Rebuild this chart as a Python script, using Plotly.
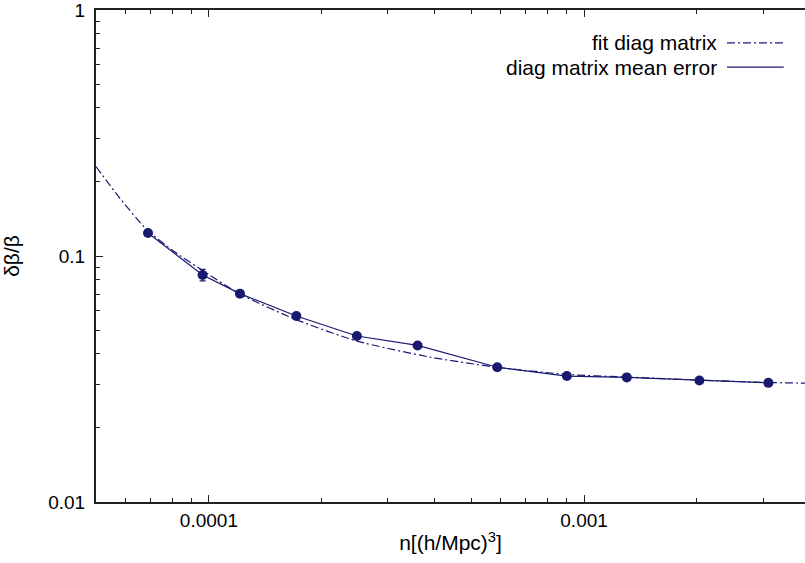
import plotly.graph_objects as go

# measured data (diag matrix mean error)
n_data = [6.88e-5, 9.62e-5, 1.21e-4, 1.71e-4, 2.48e-4, 3.60e-4, 5.87e-4, 9.0e-4, 1.30e-3, 2.03e-3, 3.10e-3]
err_data = [0.124, 0.0837, 0.0703, 0.0570, 0.0473, 0.0433, 0.0353, 0.0325, 0.0321, 0.0312, 0.0305]
err_bars = [0.003, 0.0045, 0.002, 0.0012, 0.0009, 0.0008, 0.0006, 0.0005, 0.0005, 0.0005, 0.0005]

# fit diag matrix curve
n_fit = [5.0e-5, 5.8e-5, 6.83e-5, 8.1e-5, 9.58e-5, 1.21e-4, 1.72e-4, 2.48e-4, 3.89e-4, 5.86e-4, 9.0e-4, 1.30e-3, 2.02e-3, 3.10e-3, 4.0e-3]
y_fit = [0.231, 0.171, 0.128, 0.104, 0.0877, 0.0700, 0.0549, 0.0451, 0.0388, 0.0353, 0.0330, 0.0322, 0.0313, 0.0306, 0.0304]

x_tickvals = [1e-4, 1e-3]
x_ticktext = ["0.0001", "0.001"]
y_tickvals = [0.01, 0.1, 1]
y_ticktext = ["0.01", "0.1", "1"]
x_minor = [5e-5, 6e-5, 7e-5, 8e-5, 9e-5, 2e-4, 3e-4, 4e-4, 5e-4, 6e-4, 7e-4, 8e-4, 9e-4, 2e-3, 3e-3]
y_minor = [0.02, 0.03, 0.04, 0.05, 0.06, 0.07, 0.08, 0.09, 0.2, 0.3, 0.4, 0.5, 0.6, 0.7, 0.8, 0.9]

legend_labels = ["fit diag matrix", "diag matrix mean error"]

color = "#191970"
font = "Liberation Sans, Arial, sans-serif"
tick_size = 19
text_size = 21

fig = go.Figure()
fig.add_trace(go.Scatter(
    x=n_fit, y=y_fit, mode="lines", name=legend_labels[0],
    line=dict(color=color, width=1.2, dash="8px,3px,2px,3px", shape="spline", smoothing=0.6),
))
fig.add_trace(go.Scatter(
    x=n_data, y=err_data, mode="lines+markers", name=legend_labels[1],
    line=dict(color=color, width=1.2),
    marker=dict(color=color, size=10, symbol="circle"),
    error_y=dict(type="data", array=err_bars, color=color, thickness=1.2, width=3),
))

axis_common = dict(
    type="log", showgrid=False, zeroline=False,
    showline=True, linecolor="#222", linewidth=2,
    ticks="inside", ticklen=7, tickwidth=1, tickcolor="#222",
    tickfont=dict(family=font, size=tick_size, color="black"),
    ticklabeloverflow="allow", automargin=False,
)

fig.update_xaxes(
    **axis_common,
    range=[-4.301, -2.411],
    tickmode="array", tickvals=x_tickvals, ticktext=x_ticktext,
    minor=dict(ticks="inside", ticklen=4, tickcolor="#222", tickmode="array", tickvals=x_minor, showgrid=False),
    mirror="ticks",
    title=dict(text="n[(h/Mpc)<sup>3</sup>]", font=dict(family=font, size=text_size, color="black"), standoff=6),
)
fig.update_yaxes(
    **axis_common,
    range=[-2, 0],
    tickmode="array", tickvals=y_tickvals, ticktext=y_ticktext,
    ticklabelstandoff=5,
    minor=dict(ticks="inside", ticklen=4, tickcolor="#222", tickmode="array", tickvals=y_minor, showgrid=False),
    title=dict(text="δβ/β", font=dict(family=font, size=text_size, color="black"), standoff=30),
)

# gnuplot-style key: text right-aligned, sample line on the right
rows_y = [0.933, 0.884]
dashes = ["8px,3px,2px,3px", "solid"]
for lbl, yy, dsh in zip(legend_labels, rows_y, dashes):
    fig.add_annotation(xref="paper", yref="paper", x=0.878, y=yy, text=lbl,
                       showarrow=False, xanchor="right", yanchor="middle",
                       font=dict(family=font, size=text_size, color="black"))
    fig.add_shape(type="line", xref="paper", yref="paper", x0=0.890, x1=0.970, y0=yy, y1=yy,
                  line=dict(color=color, width=1.2, dash=dsh))

fig.update_layout(
    width=805, height=563,
    margin=dict(l=96, r=0, t=10, b=61),
    paper_bgcolor="white", plot_bgcolor="white",
    showlegend=False,
    font=dict(family=font, size=tick_size, color="black"),
)

# remove the default page margin so the 805x563 figure fills the window exactly
fig.write_html(
    "out.html",
    config={"displayModeBar": False},
    post_script="document.body.style.margin='0';document.body.style.overflow='hidden';",
)
